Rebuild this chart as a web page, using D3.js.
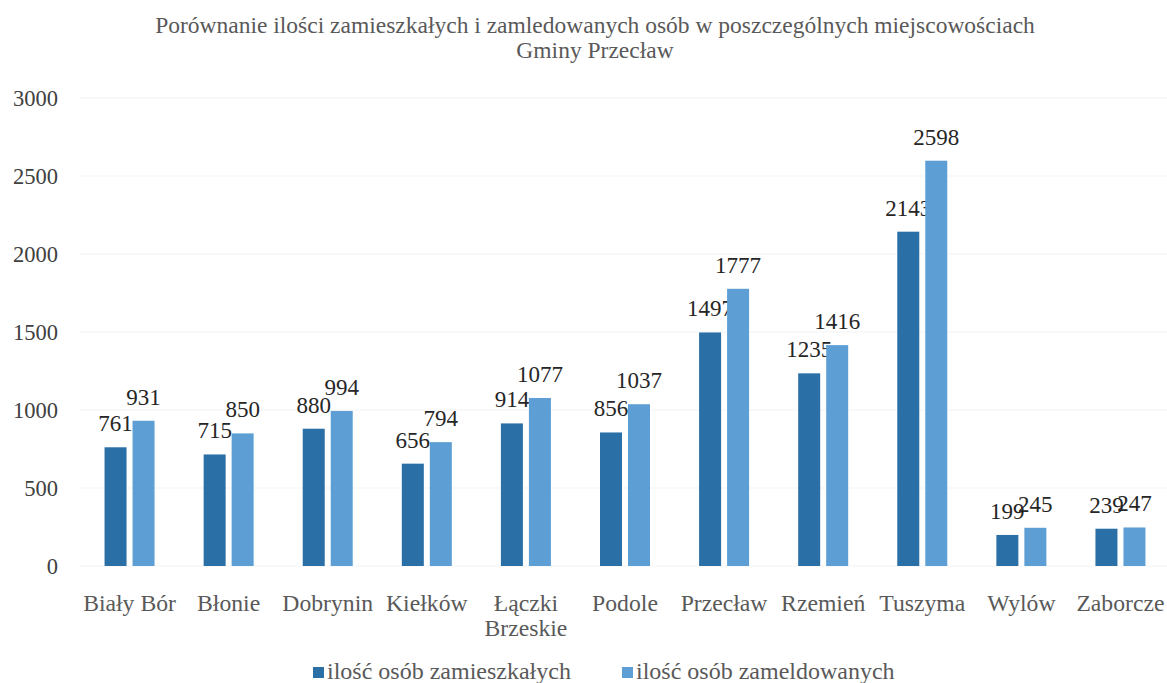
<!DOCTYPE html>
<html><head><meta charset="utf-8">
<script src="https://cdn.jsdelivr.net/npm/d3@7"></script>
</head><body style="margin:0"><svg id="c" width="1167" height="683" font-family="Liberation Serif" style="font-family:'Liberation Serif';display:block"></svg>
<script>
const categories = ["Biały Bór","Błonie","Dobrynin","Kiełków","Łączki Brzeskie","Podole","Przecław","Rzemień","Tuszyma","Wylów","Zaborcze"];
const zamieszkali = [761,715,880,656,914,856,1497,1235,2143,199,239];
const zameldowani = [931,850,994,794,1077,1037,1777,1416,2598,245,247];
const seriesNames = ["ilość osób zamieszkałych","ilość osób zameldowanych"];
const yTicks = [0,500,1000,1500,2000,2500,3000];
const titleLines = ["Porównanie ilości zamieszkałych i zamledowanych osób w poszczególnych miejscowościach","Gminy Przecław"];

const colors = ["#2a6fa6","#5d9fd4"];
const FF = "Liberation Serif";
const svg = d3.select("#c");
const x = d3.scaleBand().domain(categories).range([80,1170]).padding(0);
const y = d3.scaleLinear().domain([0,3000]).range([566,98]);
const barW = 22, gap = 6;

svg.append("g").selectAll("line").data(yTicks).join("line")
  .attr("x1",80).attr("x2",1167).attr("y1",d=>y(d)).attr("y2",d=>y(d))
  .attr("stroke","#f3f3f3").attr("stroke-width",1);

const yAxis = d3.axisLeft(y).tickValues(yTicks).tickFormat(d3.format("d")).tickSize(0).tickPadding(0);
const ya = svg.append("g").attr("transform","translate(58,0)").call(yAxis);
ya.attr("font-family",FF).attr("font-size",22.5);
ya.select(".domain").remove();
ya.selectAll("text").attr("font-family",FF).attr("font-size",22.5).attr("fill","#404040").attr("dy","0.32em");

const series = [zamieszkali, zameldowani];
series.forEach((vals,si)=>{
  const off = si===0 ? -(barW+gap/2) : gap/2;
  const g = svg.append("g");
  g.selectAll("rect").data(vals).join("rect")
    .attr("x",(d,i)=>x(categories[i])+x.bandwidth()/2+off)
    .attr("y",d=>y(d)).attr("width",barW).attr("height",d=>y(0)-y(d))
    .attr("fill",colors[si]);
  g.selectAll("text").data(vals).join("text")
    .attr("x",(d,i)=>x(categories[i])+x.bandwidth()/2+off+barW/2)
    .attr("y",d=>y(d)-16)
    .attr("text-anchor","middle").attr("font-family",FF).attr("font-size",23).attr("fill","#262626")
    .text(d=>d);
});

const xa = svg.append("g");
categories.forEach(c=>{
  const words = c === "Łączki Brzeskie" ? ["Łączki","Brzeskie"] : [c];
  const t = xa.append("text").attr("text-anchor","middle").attr("font-family",FF).attr("font-size",23.7).attr("fill","#595959");
  words.forEach((w,i)=>t.append("tspan").attr("x",x(c)+x.bandwidth()/2).attr("y",611+i*25).text(w));
});

const tt = svg.append("text").attr("text-anchor","middle").attr("font-family",FF).attr("font-size",23.5).attr("fill","#595959");
titleLines.forEach((l,i)=>tt.append("tspan").attr("x",595).attr("y",33+i*25).text(l));

const leg = svg.append("g");
const legX = [313, 622];
seriesNames.forEach((n,i)=>{
  leg.append("rect").attr("x",legX[i]).attr("y",667).attr("width",11).attr("height",11).attr("fill",colors[i]);
  leg.append("text").attr("x",legX[i]+14).attr("y",679).attr("font-family",FF).attr("font-size",24).attr("fill","#595959").text(n);
});
</script></body></html>
